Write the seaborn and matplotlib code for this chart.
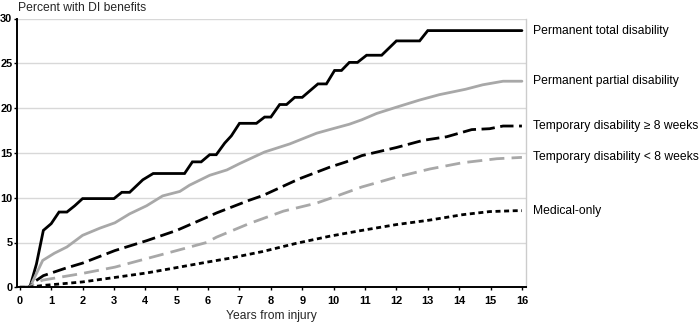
import matplotlib
matplotlib.use("Agg")
import matplotlib.pyplot as plt
import seaborn as sns
import pandas as pd

sns.set_style("white")
plt.rcParams['font.family'] = ['Liberation Sans', 'DejaVu Sans']

# Permanent total disability (step-like quarterly)
ptd_x = [0, 0.25, 0.32, 0.53, 0.75, 1.0, 1.25, 1.5, 1.75, 2.0, 2.25, 2.5, 2.75, 3.0, 3.25, 3.5, 3.92, 4.25,
         5.25, 5.5, 5.78, 6.05, 6.26, 6.53, 6.74, 7.0, 7.54, 7.8, 8.0, 8.28, 8.5, 8.76, 9.0, 9.5, 9.77,
         10.03, 10.25, 10.5, 10.76, 11.05, 11.53, 12.0, 12.74, 13.0, 16.0]
ptd_y = [0, 0, 0, 2.6, 6.35, 7.1, 8.4, 8.4, 9.1, 9.9, 9.9, 9.9, 9.9, 9.9, 10.6, 10.6, 12.0, 12.7,
         12.7, 14.0, 14.0, 14.8, 14.8, 16.1, 16.9, 18.3, 18.3, 19.0, 19.0, 20.4, 20.4, 21.2, 21.2, 22.7, 22.7,
         24.2, 24.2, 25.1, 25.1, 25.9, 25.9, 27.5, 27.5, 28.65, 28.65]

# Permanent partial disability
ppd_x = [0, 0.25, 0.32, 0.73, 1.1, 1.5, 2.0, 2.55, 3.03, 3.5, 4.04, 4.55, 5.1, 5.41, 6.05, 6.6, 7.0, 7.8,
         8.6, 9.46, 9.87, 10.5, 10.9, 11.37, 12.0, 12.74, 13.37, 14.2, 14.75, 15.4, 16.0]
ppd_y = [0, 0, 0, 3.0, 3.8, 4.5, 5.8, 6.6, 7.2, 8.2, 9.1, 10.2, 10.7, 11.4, 12.5, 13.1, 13.8, 15.1,
         16.0, 17.2, 17.6, 18.2, 18.7, 19.4, 20.1, 20.9, 21.5, 22.1, 22.6, 23.0, 23.0]

# Temporary disability >= 8 weeks
tlong_x = [0, 0.27, 0.5, 0.75, 1.43, 2.0, 3.03, 4.04, 5.0, 5.95, 6.27, 7.3, 7.75, 8.9, 9.87, 10.4, 10.9,
           12.0, 12.85, 13.6, 14.4, 14.97, 15.4, 16.0]
tlong_y = [0, 0, 0.7, 1.3, 2.1, 2.7, 4.1, 5.2, 6.35, 7.8, 8.3, 9.7, 10.25, 12.1, 13.4, 14.0, 14.7,
           15.6, 16.4, 16.8, 17.6, 17.7, 18.0, 18.0]

# Temporary disability < 8 weeks
tshort_x = [0, 0.27, 0.48, 0.73, 2.0, 3.03, 4.04, 5.0, 5.95, 6.27, 7.3, 8.4, 9.46, 9.87, 10.9, 12.0,
            13.06, 14.1, 15.2, 16.0]
tshort_y = [0, 0, 0.45, 0.8, 1.55, 2.25, 3.2, 4.1, 5.0, 5.6, 7.1, 8.5, 9.4, 9.9, 11.2, 12.3,
            13.2, 13.9, 14.35, 14.5]

# Medical-only
med_x = [0, 0.27, 0.73, 2.0, 3.03, 4.04, 5.0, 5.95, 6.7, 7.75, 8.8, 9.87, 10.9, 12.0, 13.06, 14.1,
         14.97, 15.8, 16.0]
med_y = [0, 0, 0.2, 0.6, 1.1, 1.6, 2.2, 2.8, 3.25, 4.0, 4.9, 5.7, 6.35, 7.0, 7.5, 8.1,
         8.45, 8.55, 8.55]

labels = ["Permanent total disability", "Permanent partial disability",
          "Temporary disability \u2265 8 weeks", "Temporary disability < 8 weeks", "Medical-only"]
x_ticks = list(range(0, 17))
y_ticks = [0, 5, 10, 15, 20, 25, 30]

series = [(ptd_x, ptd_y), (ppd_x, ppd_y), (tlong_x, tlong_y), (tshort_x, tshort_y), (med_x, med_y)]
styles = [
    dict(color="black", dashes=None),
    dict(color="#a8a8a8", dashes=None),
    dict(color="black", dashes=(4.8, 2.0)),
    dict(color="#a8a8a8", dashes=(5.4, 2.6)),
    dict(color="black", dashes=(1.8, 1.3)),
]

fig = plt.figure(figsize=(7, 3.25), dpi=100)
ax = fig.add_axes([17.3 / 700, 1 - 287.3 / 325, (526 - 17.3) / 700, (287.3 - 18.5) / 325])

for (xs, ys), lab, st in zip(series, labels, styles):
    df = pd.DataFrame({"x": xs, "y": ys})
    sns.lineplot(data=df, x="x", y="y", ax=ax, color=st["color"], linewidth=2.0,
                 estimator=None, sort=False)
    ln = ax.lines[-1]
    ln.set_solid_joinstyle("miter")
    if st["dashes"] is not None:
        ln.set_dashes(st["dashes"])
        ln.set_dash_capstyle("butt")
    ax.annotate(lab, xy=(1.0, ys[-1]), xycoords=("axes fraction", "data"),
                xytext=(5, 0), textcoords="offset points", va="center", ha="left",
                fontsize=8.7, color="black", annotation_clip=False)

ax.set_xlim(-0.08, 16.13)
ax.set_ylim(0, 30)
ax.set_xticks(x_ticks)
ax.set_yticks(y_ticks)
ax.set_xticklabels([str(t) for t in x_ticks], fontsize=7.9, fontweight="bold")
ax.set_yticklabels([str(t) for t in y_ticks], fontsize=7.9, fontweight="bold")
ax.set_xlabel("Years from injury", fontsize=8.7, labelpad=2.5)
ax.set_ylabel("")
ax.grid(axis="y", color="#d8d8d8", linewidth=1.0)
ax.set_axisbelow(True)
ax.spines["top"].set_visible(False)
ax.spines["right"].set_color("#cccccc")
ax.spines["right"].set_linewidth(1.0)
ax.spines["left"].set_color("black")
ax.spines["left"].set_linewidth(1.4)
ax.spines["bottom"].set_color("black")
ax.spines["bottom"].set_linewidth(1.4)
ax.tick_params(axis="both", which="both", direction="out", length=2.5, width=1.0,
               colors="black", left=True, bottom=True)
ax.tick_params(axis="y", pad=1.0)
ax.tick_params(axis="x", pad=4.0)
fig.text(18 / 700, 1 - 8 / 325, "Percent with DI benefits", fontsize=8.7, ha="left", va="center")

fig.savefig("out.png", dpi=100)
